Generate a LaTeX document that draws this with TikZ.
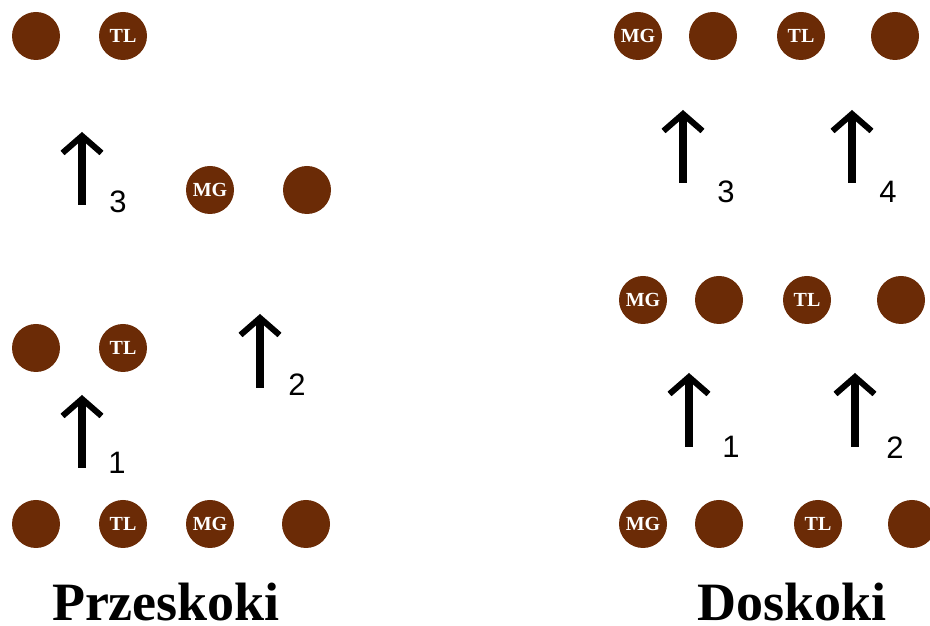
\documentclass[tikz,border=0pt]{standalone}
\usepackage{fontspec}
\setmainfont{Liberation Serif}
\newfontfamily\arialfont{Liberation Sans}
\usepackage{tikz}
\usetikzlibrary{positioning}
\usetikzlibrary{arrows.meta}

\definecolor{ballbrown}{RGB}{107,43,6}

\begin{document}
\begin{tikzpicture}[x=1pt,y=1pt]

\tikzset{player/.style={
		circle,
		fill=ballbrown,
		minimum size=48pt,
		inner sep=0pt,
		text=white,
		font=\bfseries\fontsize{20}{20}\selectfont
	},
	move/.style={
		line width=8pt,
		-{Straight Barb[length=17pt,width=39pt,line width=6pt]}
	},
	movenum/.style={font=\arialfont\fontsize{31}{31}\selectfont},
	title/.style={anchor=base, inner sep=0pt, font=\bfseries\fontsize{54}{54}\selectfont}
}
\useasboundingbox (0,0) rectangle (930,626);

% Przeskoki
\node[player] (lA1) at (36,590) {};
\node[player] (lA2) at (123,590) {TL};
\node[player] (lB1) at (210,436) {MG};
\node[player] (lB2) at (307,436) {};
\node[player] (lC1) at (36,278) {};
\node[player] (lC2) at (123,278) {TL};
\node[player] (lD1) at (36,102) {};
\node[player] (lD2) at (123,102) {TL};
\node[player] (lD3) at (210,102) {MG};
\node[player] (lD4) at (306,102) {};

\coordinate (l1s) at (82,158);  \coordinate (l1e) at (82,231);
\coordinate (l2s) at (260,238); \coordinate (l2e) at (260,312);
\coordinate (l3s) at (82,421);  \coordinate (l3e) at (82,494);
\draw[move] (l1s) -- (l1e);
\draw[move] (l2s) -- (l2e);
\draw[move] (l3s) -- (l3e);
\node[movenum] (l1n) at (117,163) {1};
\node[movenum] (l2n) at (297,241) {2};
\node[movenum] (l3n) at (118,424) {3};

\node[title] (ltitle) at (166,5) {Przeskoki};

% Doskoki
\node[player] (rA1) at (638,590) {MG};
\node[player] (rA2) at (713,590) {};
\node[player] (rA3) at (801,590) {TL};
\node[player] (rA4) at (895,590) {};
\node[player] (rB1) at (643,326) {MG};
\node[player] (rB2) at (719,326) {};
\node[player] (rB3) at (807,326) {TL};
\node[player] (rB4) at (901,326) {};
\node[player] (rC1) at (643,102) {MG};
\node[player] (rC2) at (719,102) {};
\node[player] (rC3) at (818,102) {TL};
\node[player] (rC4) at (912,102) {};

\coordinate (r1s) at (689,179); \coordinate (r1e) at (689,253);
\coordinate (r2s) at (855,179); \coordinate (r2e) at (855,253);
\coordinate (r3s) at (683,443); \coordinate (r3e) at (683,516);
\coordinate (r4s) at (852,443); \coordinate (r4e) at (852,516);
\draw[move] (r1s) -- (r1e);
\draw[move] (r2s) -- (r2e);
\draw[move] (r3s) -- (r3e);
\draw[move] (r4s) -- (r4e);
\node[movenum] (r1n) at (731,179) {1};
\node[movenum] (r2n) at (895,178) {2};
\node[movenum] (r3n) at (726,434) {3};
\node[movenum] (r4n) at (888,434) {4};

\node[title] (rtitle) at (792,5) {Doskoki};
\end{tikzpicture}
\end{document}
